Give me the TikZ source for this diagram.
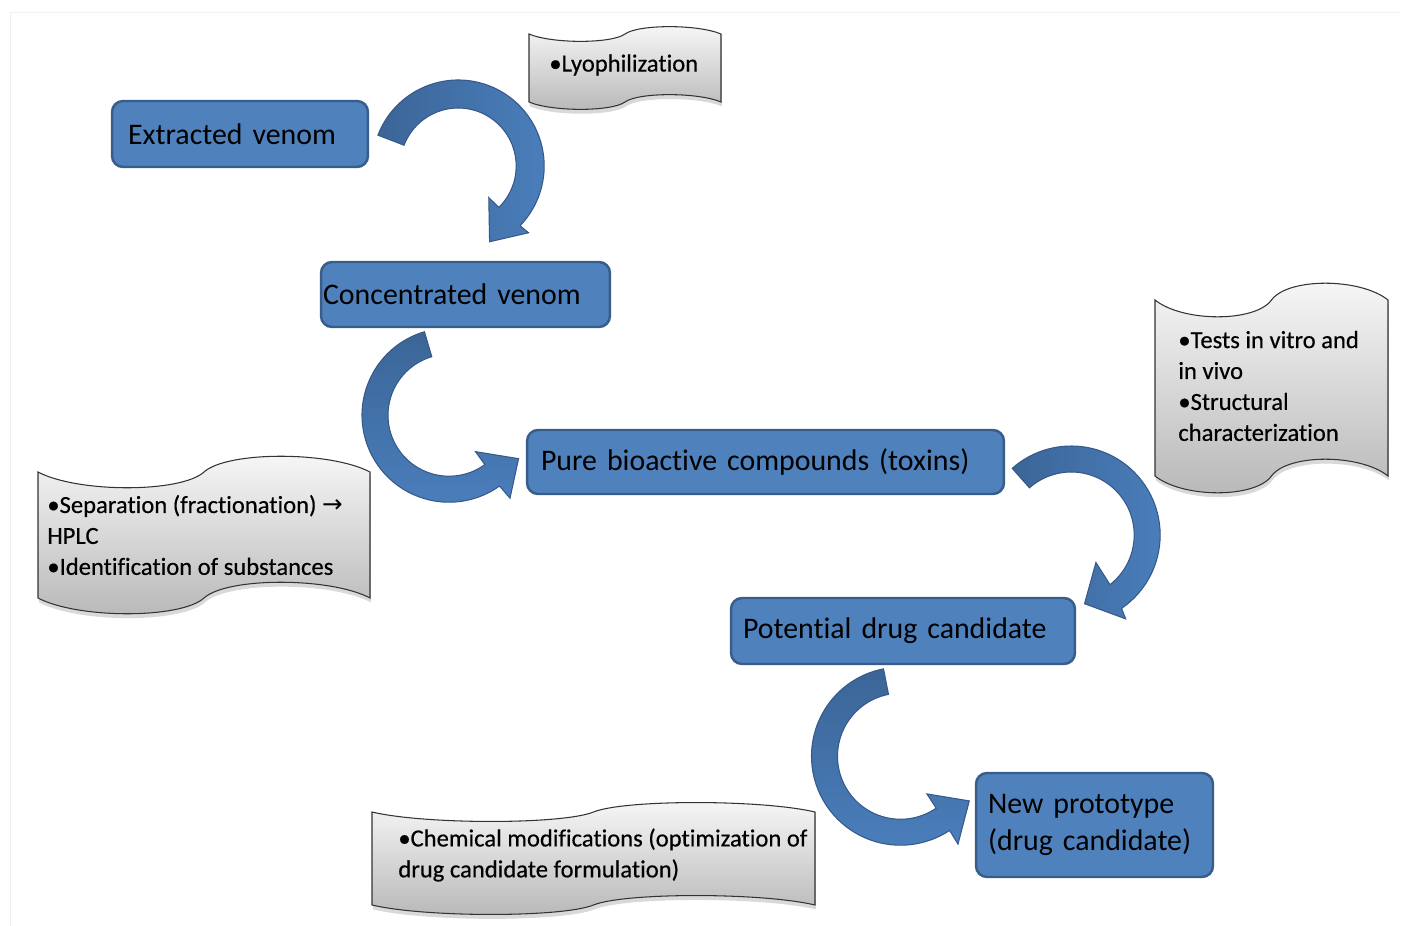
\documentclass[tikz,border=0pt]{standalone}
\usepackage{fontspec}
\setmainfont{Carlito}[Ligatures=NoCommon]
\newfontfamily\arrowfont{DejaVu Sans}
\usetikzlibrary{calc,shadows}

\definecolor{boxfill}{HTML}{4F81BD}
\definecolor{boxline}{HTML}{385D8A}
\definecolor{arrowdark}{HTML}{3B6597}
\definecolor{arrowlight}{HTML}{4A7EBB}
\definecolor{arrowline}{HTML}{36598A}

% wavy document: left, right, top, bottom, wave height
\newcommand{\wavedoc}[5]{%
  \pgfmathsetmacro{\wvm}{(#1+#2)/2}
  \pgfmathsetmacro{\wva}{0.12*(#2-#1)}
  \pgfmathsetmacro{\wvb}{0.07*(#2-#1)}
  \pgfmathsetmacro{\wvh}{1.4*#5}
  \path[docbox] (#1,#3) .. controls +(\wva,\wvh) and +(-\wvb,\wvh) .. (\wvm,#3)
    .. controls +(\wvb,-\wvh) and +(-\wva,-\wvh) .. (#2,#3) -- (#2,#4)
    .. controls +(-\wva,-\wvh) and +(\wvb,-\wvh) .. (\wvm,#4)
    .. controls +(-\wvb,\wvh) and +(\wva,\wvh) .. (#1,#4) -- cycle;
}

\begin{document}
\begin{tikzpicture}[x=0.02cm, y=-0.02cm,
  stage/.style={rectangle, rounded corners=0.22cm, draw=boxline, line width=1.4pt,
    fill=boxfill, align=left, inner ysep=0pt, font=\fontsize{17}{21.5}\selectfont},
  docbox/.style={draw=black!80, line width=0.6pt, top color=black!3, bottom color=black!28,
    drop shadow={shadow xshift=0.5pt, shadow yshift=-2.5pt, opacity=0.3}},
  doctext/.style={anchor=west, align=left, inner sep=0pt,
    font=\fontsize{14}{17.6}\selectfont\addfontfeatures{FakeBold=0.4}},
  curvedarrow/.style={draw=arrowline, line width=0.6pt}]
\useasboundingbox (0,0) rectangle (1407,926);
\draw[black!6] (10,926) |- (1400,12);

\node[stage, text width=4.48cm, inner xsep=0.32cm, minimum height=1.32cm](ext) at (240,134) {Extracted venom};
\node[stage, text width=5.7cm, inner xsep=0.04cm, minimum height=1.3cm](conc) at (465.5,294.5) {Concentrated venom};
\node[stage, text width=8.98cm, inner xsep=0.28cm, minimum height=1.28cm](pure) at (765.5,462) {Pure bioactive compounds (toxins)};
\node[stage, text width=6.4cm, inner xsep=0.24cm, minimum height=1.32cm](pot) at (903,631) {Potential drug candidate};
\node[stage, text width=4.26cm, inner xsep=0.24cm, minimum height=2.08cm](newp) at (1094.5,825) {New prototype\\(drug candidate)};

% notes
\wavedoc{529}{721}{34}{102}{7}
\node[doctext](lyo) at (549,65) {•Lyophilization};
\wavedoc{1155}{1388}{300}{476}{16}
\node[doctext](tests) at (1178,386) {•Tests in vitro and\\in vivo\\•Structural\\characterization};
\wavedoc{38}{370}{472}{598}{15}
\node[doctext](sep) at (47,535) {•Separation (fractionation) {\arrowfont →}\\HPLC\\•Identification of substances};
\wavedoc{372}{815}{812}{905}{9}
\begin{scope}
\clip (0,0) rectangle (815,926);
\node[doctext](chem) at (398,855) {•Chemical modifications (optimization of\\drug candidate formulation)};
\end{scope}

% curved arrows
\coordinate (c1) at ($(ext.east)+(89,32)$);
\path[curvedarrow, left color=arrowdark, right color=arrowlight]
  ($(c1)+(201:86)$) arc[start angle=201, end angle=404, radius=86]
  -- ($(c1)+(43.5:97)$) -- ($(c1)+(67.5:82)$) -- ($(c1)+(46:44)$)
  -- ($(c1)+(45.5:58)$) arc[start angle=405.5, end angle=201, radius=58] -- cycle;

\coordinate (c2) at ($(conc.south)+(-16.5,87)$);
\path[curvedarrow, top color=arrowdark, bottom color=arrowlight]
  ($(c2)+(253.6:87)$) arc[start angle=253.6, end angle=54.5, radius=87]
  -- ($(c2)+(53.7:103)$) -- ($(c2)+(32:82)$) -- ($(c2)+(54:45)$)
  -- ($(c2)+(54:61)$) arc[start angle=54, end angle=253.6, radius=61] -- cycle;

\coordinate (c3) at ($(pure.east)+(66,73)$);
\path[curvedarrow, left color=arrowdark, right color=arrowlight]
  ($(c3)+(228.5:89)$) arc[start angle=228.5, end angle=415.5, radius=89]
  -- ($(c3)+(57:100)$) -- ($(c3)+(79:70)$) -- ($(c3)+(48:37)$)
  -- ($(c3)+(52:63)$) arc[start angle=412, end angle=228.5, radius=63] -- cycle;

\coordinate (c4) at ($(pot.south)+(-2.5,91)$);
\path[curvedarrow, top color=arrowdark, bottom color=arrowlight]
  ($(c4)+(259:89)$) arc[start angle=259, end angle=56.5, radius=89]
  -- ($(c4)+(56.8:105)$) -- ($(c4)+(33:82)$) -- ($(c4)+(55:46)$)
  -- ($(c4)+(55.5:63)$) arc[start angle=55.5, end angle=259, radius=63] -- cycle;
\end{tikzpicture}
\end{document}
